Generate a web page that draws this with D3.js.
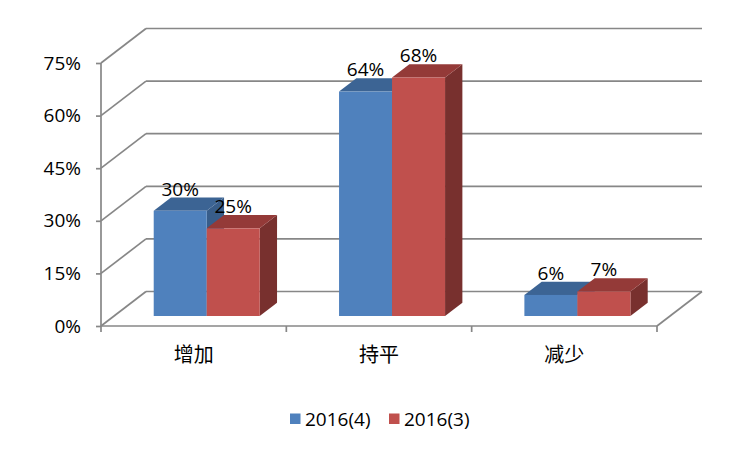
<!DOCTYPE html>
<html><head><meta charset="utf-8">
<script src="https://cdn.jsdelivr.net/npm/d3@7"></script>
<style>body{margin:0;background:#fff}svg{display:block}</style>
</head><body>
<script>
const categories = ["增加", "持平", "减少"];
const seriesNames = ["2016(4)", "2016(3)"];
const s2016_4 = [30, 64, 6];
const s2016_3 = [25, 68, 7];
const yTicks = [0, 15, 30, 45, 60, 75];

const W = 751, H = 449;
const svg = d3.select("body").append("svg").attr("width", W).attr("height", H);

const depthX = 45, depthY = -34.5;
const x = d3.scaleBand().domain(categories).range([101, 657]);
const y = d3.scaleLinear().domain([0, 75]).range([326, 63]);
const xs = d3.scaleBand().domain(seriesNames).range([0, 106]);
const barPad = (x.bandwidth() - 106) / 2;
const gridColor = "#878787";
const lw = 1.7;
const fontSize = 19;
const colors = [
  {front: "#4F81BD", top: "#3C6494", side: "#385D8A"},
  {front: "#C0504D", top: "#943A38", side: "#78302E"}
];

// walls / gridlines
const g = svg.append("g");
yTicks.forEach(t => {
  const yy = y(t);
  g.append("line").attr("x1", 101).attr("y1", yy).attr("x2", 101 + depthX).attr("y2", yy + depthY)
    .attr("stroke", gridColor).attr("stroke-width", lw);
  g.append("line").attr("x1", 101 + depthX).attr("y1", yy + depthY).attr("x2", 657 + depthX).attr("y2", yy + depthY)
    .attr("stroke", gridColor).attr("stroke-width", lw);
});
// floor
g.append("line").attr("x1", 101).attr("y1", y(0)).attr("x2", 657).attr("y2", y(0)).attr("stroke", gridColor).attr("stroke-width", lw);
g.append("line").attr("x1", 657).attr("y1", y(0)).attr("x2", 657 + depthX).attr("y2", y(0) + depthY).attr("stroke", gridColor).attr("stroke-width", lw);

// y axis
const yAxis = d3.axisLeft(y).tickValues(yTicks).tickFormat(d => d + "%").tickSize(5).tickPadding(15);
const ya = svg.append("g").attr("transform", "translate(101,0)").call(yAxis);
ya.select(".domain").attr("stroke", gridColor).attr("stroke-width", lw).attr("d", `M0,${y(75)}V${y(0)}`);
ya.selectAll(".tick line").attr("stroke", gridColor).attr("stroke-width", lw);
ya.selectAll("text").attr("font-family", "Open Sans").attr("font-size", fontSize).attr("fill", "#000");

// x axis
const xAxis = d3.axisBottom(x).tickSize(0).tickPadding(22);
const xa = svg.append("g").attr("transform", `translate(0,${y(0)})`).call(xAxis);
xa.select(".domain").remove();
xa.selectAll("text").attr("font-family", "Noto Sans CJK SC").attr("font-size", 20).attr("fill", "#000");
// category boundary ticks
const bounds = [101].concat(categories.map(c => x(c) + x.bandwidth()));
svg.append("g").selectAll("line").data(bounds).join("line")
  .attr("x1", d => d).attr("x2", d => d).attr("y1", y(0)).attr("y2", y(0) + 6)
  .attr("stroke", gridColor).attr("stroke-width", lw);

// bars
const f0 = 0.29, f1 = 0.675;
const ox0 = depthX * f0, oy0 = depthY * f0;
const bdx = depthX * (f1 - f0), bdy = depthY * (f1 - f0);
const data = [];
categories.forEach((c, i) => {
  [s2016_4, s2016_3].forEach((s, j) => data.push({c, j, v: s[i], name: seriesNames[j]}));
});
const bars = svg.append("g");
data.forEach(d => {
  const x0 = x(d.c) + barPad + xs(d.name) + ox0;
  const w = xs.bandwidth();
  const yb = y(0) + oy0, yt = y(d.v) + oy0;
  const col = colors[d.j];
  bars.append("path").attr("d", `M${x0 + w},${yt}L${x0 + w + bdx},${yt + bdy}L${x0 + w + bdx},${yb + bdy}L${x0 + w},${yb}Z`).attr("fill", col.side);
  bars.append("path").attr("d", `M${x0},${yt}L${x0 + bdx},${yt + bdy}L${x0 + w + bdx},${yt + bdy}L${x0 + w},${yt}Z`).attr("fill", col.top);
  bars.append("rect").attr("x", x0).attr("y", yt).attr("width", w).attr("height", yb - yt).attr("fill", col.front);
});
// labels
const labels = svg.append("g");
data.forEach(d => {
  const x0 = x(d.c) + barPad + xs(d.name) + ox0;
  const w = xs.bandwidth();
  const yt = y(d.v) + oy0 + bdy;
  labels.append("text").attr("x", x0 + w / 2).attr("y", yt - 2).attr("text-anchor", "middle")
    .attr("font-family", "Open Sans").attr("font-size", fontSize).attr("fill", "#000").text(d.v + "%");
});

// legend
const leg = svg.append("g");
const legX = [290, 389];
seriesNames.forEach((n, j) => {
  leg.append("rect").attr("x", legX[j]).attr("y", 413.5).attr("width", 10.5).attr("height", 10.5).attr("fill", colors[j].front);
  leg.append("text").attr("x", legX[j] + 15).attr("y", 419).attr("dominant-baseline", "central")
    .attr("font-family", "Open Sans").attr("font-size", fontSize).attr("fill", "#000").text(n);
});
</script>
</body></html>
